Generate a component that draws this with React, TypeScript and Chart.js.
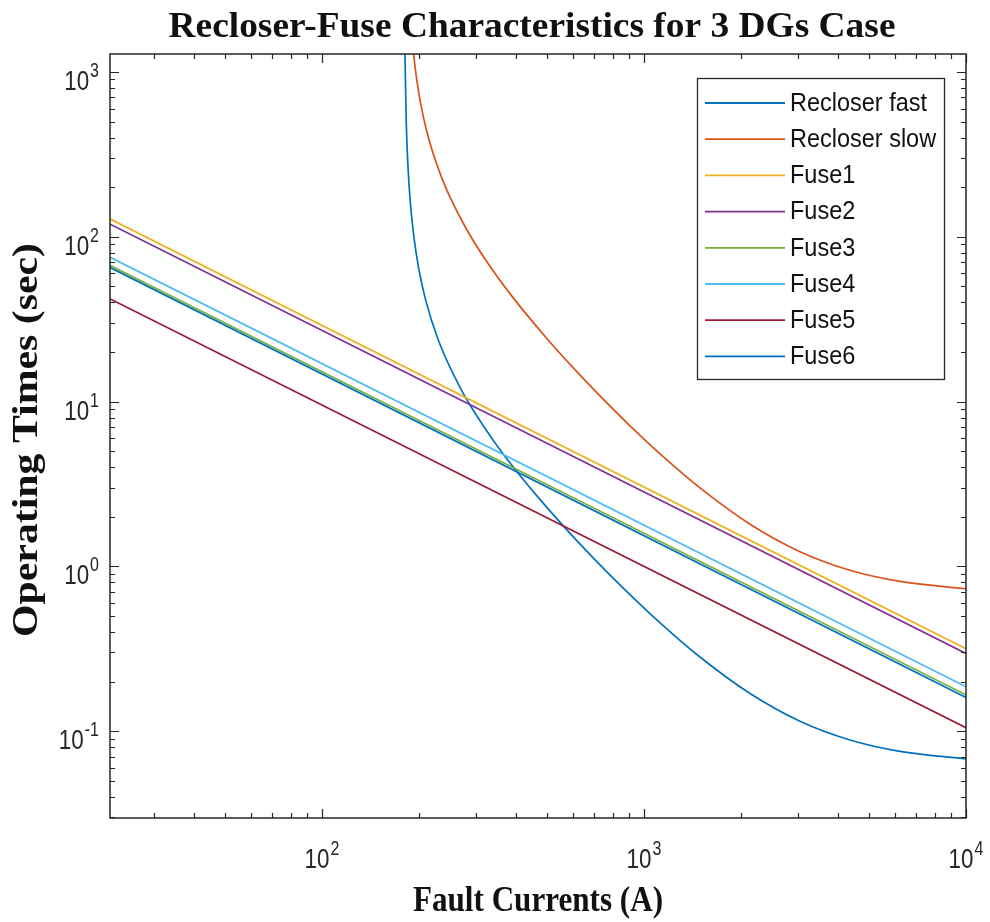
import React, { useEffect, useRef } from "react";
import { Chart, registerables } from "chart.js";
Chart.register(...registerables);

const seriesNames = ["Recloser fast", "Recloser slow", "Fuse1", "Fuse2", "Fuse3", "Fuse4", "Fuse5", "Fuse6"];
const seriesColors = ["#0072BD", "#D95319", "#EDB120", "#7E2F8E", "#77AC30", "#4DBEEE", "#A2142F", "#0072BD"];

const fastCurrents = [181, 182.5, 185, 188, 193, 200, 210, 230, 268, 294, 340, 392, 470, 576, 700, 842, 1100, 1492, 2135, 3050, 4360, 6240, 10000];
const fastTimes = [1328, 529, 263, 163, 99, 63.2, 41.1, 23.45, 12.22, 8.94, 5.83, 4.02, 2.61, 1.665, 1.111, 0.772, 0.47, 0.2816, 0.169, 0.1147, 0.0883, 0.0753, 0.0678];
const slowCurrents = [192, 195, 200, 205, 210, 220, 235, 250, 280, 320, 392, 500, 600, 730, 900, 1178, 1492, 2135, 3050, 4360, 6240, 10000];
const slowTimes = [1356, 1034, 737, 570, 462, 332.4, 230, 173.2, 112.6, 73.8, 42.7, 24.05, 16.18, 10.82, 7.2, 4.42, 2.99, 1.8, 1.227, 0.947, 0.81, 0.731];
const fuseCurrents = [22, 10000];
const fuse1Times = [128, 0.316];
const fuse2Times = [119, 0.296];
const fuse3Times = [67, 0.166];
const fuse4Times = [75, 0.186];
const fuse5Times = [41.9, 0.105];
const fuse6Times = [65, 0.16];

const xTickExponents = [2, 3, 4];
const yTickExponents = [-1, 0, 1, 2, 3];
const xMin = 21.96, xMax = 10000, yMin = 0.0297, yMax = 1285;

const AXIS = "#262626";

function pts(xs: number[], ys: number[]) {
  return xs.map((x, i) => ({ x, y: ys[i] }));
}

function drawPow(ctx: CanvasRenderingContext2D, exp: number, x: number, baseY: number, align: "center" | "right") {
  const hs = 0.8;
  ctx.font = '28px "Liberation Sans"';
  const wb = ctx.measureText("10").width * hs;
  ctx.font = '20px "Liberation Sans"';
  const es = String(exp);
  const we = ctx.measureText(es).width * hs;
  const total = wb + we + 1;
  const x0 = align === "center" ? x - total / 2 : x - total;
  ctx.fillStyle = AXIS;
  ctx.textAlign = "left";
  ctx.textBaseline = "alphabetic";
  ctx.save();
  ctx.translate(x0, baseY);
  ctx.scale(hs, 1);
  ctx.font = '28px "Liberation Sans"';
  ctx.fillText("10", 0, 0);
  ctx.restore();
  ctx.save();
  ctx.translate(x0 + wb + 1, baseY - 13);
  ctx.scale(hs, 1);
  ctx.font = '20px "Liberation Sans"';
  ctx.fillText(es, 0, 0);
  ctx.restore();
}

function drawFitted(ctx: CanvasRenderingContext2D, text: string, font: string, cx: number, baseY: number, width: number, rotate: boolean) {
  ctx.save();
  ctx.font = font;
  const w = ctx.measureText(text).width;
  ctx.translate(cx, baseY);
  if (rotate) ctx.rotate(-Math.PI / 2);
  ctx.scale(width / w, 1);
  ctx.textAlign = "center";
  ctx.textBaseline = "alphabetic";
  ctx.fillStyle = "#111";
  ctx.fillText(text, 0, 0);
  ctx.restore();
}

const overlayPlugin = {
  id: "overlay",
  afterDraw(chart: any) {
    const ctx: CanvasRenderingContext2D = chart.ctx;
    const { left, right, top, bottom } = chart.chartArea;
    const xs = chart.scales.x;
    const ys = chart.scales.y;
    ctx.save();
    ctx.strokeStyle = AXIS;
    ctx.lineWidth = 1.5;
    ctx.strokeRect(left, top, right - left, bottom - top);
    ctx.lineWidth = 1.2;
    ctx.beginPath();
    for (let k = 1; k <= 4; k++) {
      for (let n = 1; n <= 9; n++) {
        const v = n * Math.pow(10, k);
        if (v < xs.min || v > xs.max) continue;
        const px = Math.round(xs.getPixelForValue(v)) + 0.5;
        const len = n === 1 ? 9 : 5;
        ctx.moveTo(px, bottom); ctx.lineTo(px, bottom - len);
        ctx.moveTo(px, top); ctx.lineTo(px, top + len);
      }
    }
    for (let k = -2; k <= 3; k++) {
      for (let n = 1; n <= 9; n++) {
        const v = n * Math.pow(10, k);
        if (v < ys.min || v > ys.max) continue;
        const py = Math.round(ys.getPixelForValue(v)) + 0.5;
        const len = n === 1 ? 9 : 5;
        ctx.moveTo(left, py); ctx.lineTo(left + len, py);
        ctx.moveTo(right, py); ctx.lineTo(right - len, py);
      }
    }
    ctx.stroke();

    xTickExponents.forEach((e) => {
      const px = xs.getPixelForValue(Math.pow(10, e));
      drawPow(ctx, e, px, 868, "center");
    });
    yTickExponents.forEach((e) => {
      const py = ys.getPixelForValue(Math.pow(10, e));
      drawPow(ctx, e, 99, py + 18, "right");
    });

    drawFitted(ctx, "Recloser-Fuse Characteristics for 3 DGs Case", 'bold 36px "Liberation Serif"', 532, 37, 727, false);
    drawFitted(ctx, "Fault Currents (A)", 'bold 36px "Liberation Serif"', (left + right) / 2, 911, 250, false);
    drawFitted(ctx, "Operating Times (sec)", 'bold 36px "Liberation Serif"', 37, 440, 394, true);

    // legend
    const lx = 697, ly = 78, lw = 247, lh = 301;
    ctx.fillStyle = "#ffffff";
    ctx.fillRect(lx, ly, lw, lh);
    ctx.strokeStyle = AXIS;
    ctx.lineWidth = 1.3;
    ctx.strokeRect(lx + 0.5, ly + 0.5, lw, lh);
    ctx.font = '25px "Liberation Sans"';
    const hs = 137 / ctx.measureText("Recloser fast").width;
    chart.data.datasets.forEach((ds: any, i: number) => {
      const cy = 103 + i * 36.2;
      ctx.strokeStyle = ds.borderColor;
      ctx.lineWidth = 1.8;
      ctx.beginPath();
      ctx.moveTo(705, cy);
      ctx.lineTo(785, cy);
      ctx.stroke();
      ctx.save();
      ctx.translate(790, cy + 1);
      ctx.scale(hs, 1);
      ctx.fillStyle = "#111";
      ctx.textAlign = "left";
      ctx.textBaseline = "middle";
      ctx.font = '25px "Liberation Sans"';
      ctx.fillText(ds.label, 0, 0);
      ctx.restore();
    });
    ctx.restore();
  },
};

export default function App() {
  const ref = useRef<HTMLCanvasElement | null>(null);
  useEffect(() => {
    if (!ref.current) return;
    const seriesData = [
      pts(fastCurrents, fastTimes),
      pts(slowCurrents, slowTimes),
      pts(fuseCurrents, fuse1Times),
      pts(fuseCurrents, fuse2Times),
      pts(fuseCurrents, fuse3Times),
      pts(fuseCurrents, fuse4Times),
      pts(fuseCurrents, fuse5Times),
      pts(fuseCurrents, fuse6Times),
    ];
    const chart = new Chart(ref.current, {
      type: "line",
      data: {
        datasets: seriesData.map((d, i) => ({
          label: seriesNames[i],
          data: d,
          borderColor: seriesColors[i],
          backgroundColor: seriesColors[i],
          borderWidth: 1.7,
          pointRadius: 0,
          fill: false,
          order: seriesData.length - i,
          cubicInterpolationMode: i < 2 ? "monotone" : "default",
        })),
      },
      options: {
        animation: false,
        responsive: false,
        devicePixelRatio: 1,
        parsing: false as any,
        layout: { padding: { left: 0, right: 24, top: 54, bottom: 0 } },
        plugins: { legend: { display: false }, title: { display: false }, tooltip: { enabled: false } },
        scales: {
          x: {
            type: "logarithmic",
            min: xMin,
            max: xMax,
            ticks: { display: false },
            grid: { display: false },
            border: { display: false },
            afterFit: (s: any) => { s.height = 104; },
          },
          y: {
            type: "logarithmic",
            min: yMin,
            max: yMax,
            ticks: { display: false },
            grid: { display: false },
            border: { display: false },
            afterFit: (s: any) => { s.width = 110; },
          },
        },
      },
      plugins: [overlayPlugin],
    } as any);
    return () => chart.destroy();
  }, []);
  return (
    <div style={{ position: "absolute", left: 0, top: 0, width: 990, height: 922, background: "#fff" }}>
      <canvas ref={ref} width={990} height={922} style={{ display: "block" }} />
    </div>
  );
}
